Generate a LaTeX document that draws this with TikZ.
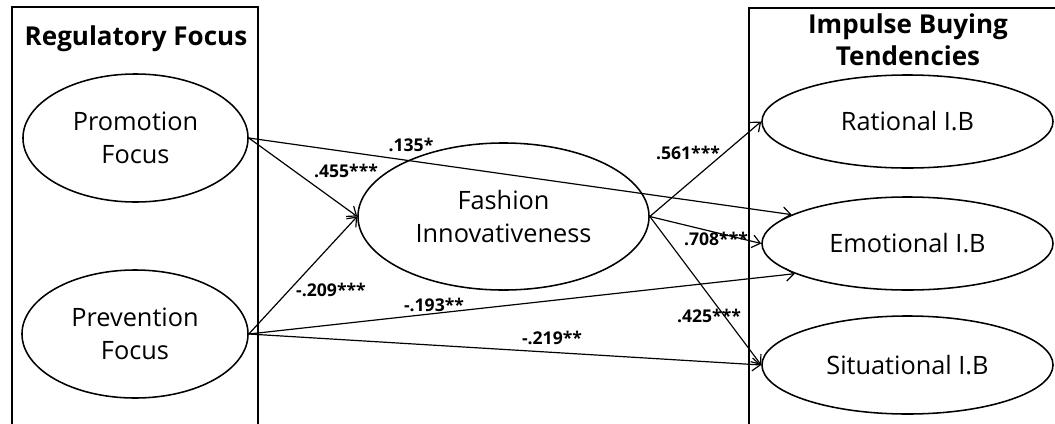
\documentclass[tikz,border=0pt]{standalone}
\usepackage{fontspec}
\setmainfont{Open Sans}
\usetikzlibrary{arrows.meta,shapes.geometric}
\tikzset{
  ovale/.style={draw,ellipse,line width=1.1pt,inner sep=0pt,align=center,
                font=\fontsize{18}{23}\selectfont},
  fleche/.style={-{Straight Barb[length=2mm,width=3.2mm]},line width=0.85pt},
  titre/.style={align=center,inner sep=0pt,font=\bfseries\fontsize{18.5}{23}\selectfont},
}

\begin{document}
\begin{tikzpicture}[x=0.025cm,y=-0.025cm,
  coef/.style={font=\bfseries\fontsize{12.5}{14}\selectfont,inner sep=1pt}]
  \useasboundingbox (0,0) rectangle (1055,423);
  % cadres
  \draw[line width=1.1pt] (12,426)--(12,7)--(258,7)--(258,426);
  \draw[line width=1.1pt] (749,426)--(749,8)--(1058,8);
  \node[titre] (tg) at (136,39) {Regulatory Focus};
  \node[titre] (td) at (908,40) {Impulse Buying\\Tendencies};
  % variables
  \node[ovale,minimum width=5.625cm,minimum height=3.2cm] (promo) at (135.5,138) {Promotion\\Focus};
  \node[ovale,minimum width=5.65cm,minimum height=3.2cm] (prev) at (135,334) {Prevention\\Focus};
  \node[ovale,minimum width=7.275cm,minimum height=3.675cm] (fash) at (503.5,216.5) {Fashion\\Innovativeness};
  \node[ovale,minimum width=7.275cm,minimum height=2.325cm] (rat) at (907.5,121.5) {Rational I.B};
  \node[ovale,minimum width=7.275cm,minimum height=2.325cm] (emo) at (907.5,243.5) {Emotional I.B};
  \node[ovale,minimum width=7.275cm,minimum height=2.45cm] (sit) at (907.5,365) {Situational I.B};
  % chemins
  \draw[fleche] (promo.east)--(fash.west);
  \draw[fleche] (promo.east)--(emo.166);
  \draw[fleche] (prev.east)--(fash.west);
  \draw[fleche] (prev.east)--(emo.195);
  \draw[fleche] (prev.east)--(sit.west);
  \draw[fleche] (fash.east)--(rat.west);
  \draw[fleche] (fash.east)--(emo.west);
  \draw[fleche] (fash.east)--(sit.west);
  % coefficients
  \node[coef] (c1) at (346,171) {.455***};
  \node[coef] (c2) at (411,145) {.135*};
  \node[coef] (c3) at (331,290) {-.209***};
  \node[coef] (c4) at (434,305) {-.193**};
  \node[coef] (c5) at (552,338) {-.219**};
  \node[coef] (c6) at (688,153) {.561***};
  \node[coef] (c7) at (716,239) {.708***};
  \node[coef] (c8) at (709,316) {.425***};
\end{tikzpicture}
\end{document}
